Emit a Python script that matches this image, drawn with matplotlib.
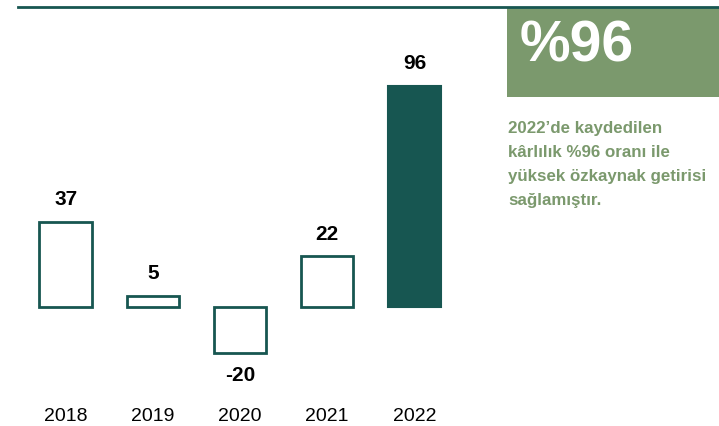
import matplotlib.pyplot as plt
from matplotlib.patches import Rectangle

years = ['2018', '2019', '2020', '2021', '2022']
roe = [37, 5, -20, 22, 96]
highlight = '2022'

TEAL = '#175651'
GREEN = '#7b996d'

plt.rcParams['font.family'] = ['Liberation Sans', 'DejaVu Sans']

fig = plt.figure(figsize=(7.19, 4.26), dpi=100)

# bars area, pixel-ish placement
ax = fig.add_axes([22 / 719, 46 / 426, 436 / 719, 340 / 426])
for i, (yr, v) in enumerate(zip(years, roe)):
    if yr == highlight:
        ax.bar(i, v, width=0.6, color=TEAL, edgecolor=TEAL, linewidth=1.5)
    else:
        ax.bar(i, v, width=0.6, facecolor='white', edgecolor=TEAL, linewidth=2)
    if v >= 0:
        ax.text(i, v + 5.5, str(v), ha='center', va='bottom', fontsize=15, fontweight='bold')
    else:
        ax.text(i, v - 5.5, str(v), ha='center', va='top', fontsize=15, fontweight='bold')
    ax.text(i, -47.5, yr, ha='center', va='center', fontsize=14)

ax.set_xlim(-0.5, 4.5)
ax.set_ylim(-31.7, 116)
ax.axis('off')

# top rule
fig.add_artist(plt.Line2D([18 / 719, 1], [1 - 7 / 426, 1 - 7 / 426], color=TEAL, linewidth=2))

# highlight box
fig.add_artist(Rectangle((507 / 719, 1 - 97 / 426), 212 / 719, 89 / 426,
                         facecolor=GREEN, edgecolor='none', transform=fig.transFigure))
fig.text(520 / 719, 1 - 47 / 426, '%96', color='white', fontsize=41, fontweight='bold',
         ha='left', va='center')

note = "2022’de kaydedilen\nkârlılık %96 oranı ile\nyüksek özkaynak getirisi\nsağlamıştır."
fig.text(508 / 719, 1 - 121 / 426, note, color=GREEN, fontsize=12.2, fontweight='bold',
         ha='left', va='top', linespacing=1.75)

fig.savefig('out.png', dpi=100)
